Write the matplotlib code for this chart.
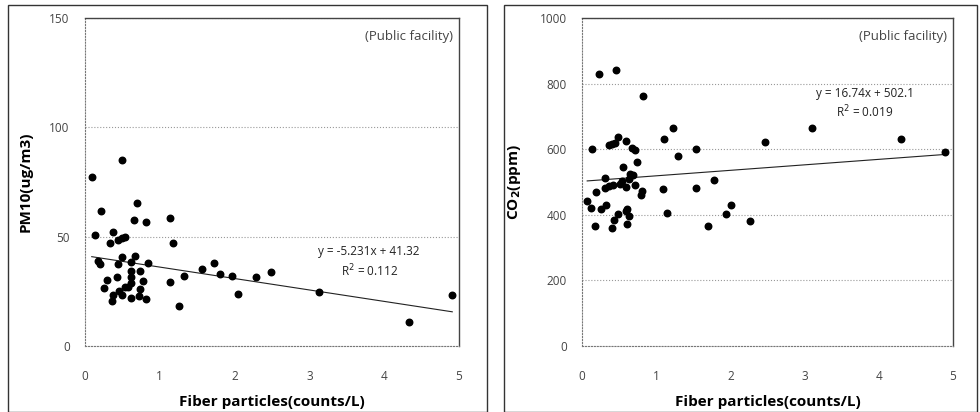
import matplotlib.pyplot as plt
from matplotlib.patches import Rectangle

plt.rcParams['font.family'] = ['Open Sans', 'DejaVu Sans']

# PM10 vs fiber particles (public facility)
pm_x = [0.50, 0.09, 0.21, 0.69, 0.65, 0.82, 1.13, 0.14, 0.38, 0.33, 0.44, 0.49, 0.53,
        1.17, 0.17, 0.20, 0.44, 0.50, 0.61, 0.67, 0.84, 1.56, 1.72, 1.80, 1.97, 2.28,
        2.48, 1.32, 1.13, 2.04, 1.25, 0.29, 0.26, 0.43, 0.61, 0.73, 0.62, 0.77, 0.62,
        0.58, 0.54, 0.74, 0.45, 0.38, 0.36, 0.49, 0.62, 0.72, 0.82, 3.13, 4.33, 4.91]
pm_y = [84.9, 77.2, 61.6, 65.4, 57.7, 56.5, 58.4, 50.7, 52.2, 47.2, 48.4, 49.5, 49.9,
        47.3, 39.1, 37.6, 37.7, 40.5, 38.4, 41.2, 38.1, 35.3, 37.9, 33.0, 31.8, 31.7,
        33.9, 31.8, 29.2, 23.9, 18.1, 30.0, 26.5, 31.4, 34.1, 34.1, 31.7, 29.7, 28.9,
        27.2, 26.8, 25.9, 25.1, 23.3, 20.7, 23.1, 21.8, 22.7, 21.5, 24.7, 11.1, 23.4]
pm_slope, pm_icpt = -5.231, 41.32

# CO2 vs fiber particles (public facility)
co_x = [0.23, 0.46, 0.82, 1.22, 1.11, 0.49, 0.59, 0.36, 0.40, 0.45, 0.14, 0.68, 0.71,
        1.53, 2.46, 1.29, 0.74, 0.55, 0.65, 0.69, 0.31, 0.63, 0.54, 1.78, 0.51, 0.42,
        0.72, 0.36, 0.59, 0.31, 1.09, 1.53, 0.19, 0.81, 0.79, 0.07, 0.33, 0.12, 0.26,
        0.61, 0.59, 0.49, 0.63, 2.01, 1.94, 1.15, 0.43, 0.17, 0.41, 0.60, 1.70, 2.26,
        3.10, 4.30, 4.89]
co_y = [830, 841, 762, 665, 632, 636, 624, 614, 617, 619, 601, 603, 598,
        600, 621, 579, 562, 545, 524, 521, 511, 509, 504, 507, 495, 492,
        492, 489, 484, 481, 478, 481, 471, 472, 459, 441, 429, 420, 419,
        419, 412, 403, 397, 431, 403, 404, 383, 366, 361, 373, 367, 382,
        666, 631, 592]
co_slope, co_icpt = 16.74, 502.1

fig = plt.figure(figsize=(9.8, 4.12), dpi=100)

# outer chart frames
fig.patches.append(Rectangle((8 / 980, 0.0), 479 / 980, 407 / 412, transform=fig.transFigure,
                             fill=False, edgecolor='#333333', linewidth=1.0))
fig.patches.append(Rectangle((504 / 980, 0.0), 473 / 980, 407 / 412, transform=fig.transFigure,
                             fill=False, edgecolor='#333333', linewidth=1.0))

ax1 = fig.add_axes([85 / 980, 66 / 412, 374 / 980, 328 / 412])
ax2 = fig.add_axes([582 / 980, 66 / 412, 371 / 980, 328 / 412])


def style_axes(ax, ymax, ystep, ylabel):
    ax.set_xlim(0, 5)
    ax.set_ylim(0, ymax)
    ax.set_xticks(range(0, 6))
    ax.set_yticks(range(0, ymax + 1, ystep))
    ax.tick_params(length=0, labelsize=8.5, labelcolor='#444444')
    ax.tick_params(axis='x', pad=17)
    ax.tick_params(axis='y', pad=11)
    ax.grid(axis='y', linestyle=':', color='#999999', linewidth=0.8)
    ax.set_axisbelow(True)
    for side in ['left', 'bottom']:
        ax.spines[side].set_linestyle(':')
        ax.spines[side].set_color('#777777')
    for side in ['top', 'right']:
        ax.spines[side].set_color('#444444')
        ax.spines[side].set_linewidth(1.0)
    ax.set_xlabel('Fiber particles(counts/L)', fontsize=11, fontweight='bold', labelpad=9)
    ax.set_ylabel(ylabel, fontsize=11, fontweight='bold', labelpad=12)
    ax.text(0.985, 0.945, '(Public facility)', transform=ax.transAxes, ha='right', va='center',
            fontsize=9.5, color='#444444')


style_axes(ax1, 150, 50, 'PM10(ug/m3)')
style_axes(ax2, 1000, 200, 'CO$_\\mathbf{2}$(ppm)')

ax1.scatter(pm_x, pm_y, s=22, color='black', zorder=3)
lx = [min(pm_x), max(pm_x)]
ax1.plot(lx, [pm_slope * v + pm_icpt for v in lx], color='#222222', linewidth=0.8)
ax1.text(0.76, 0.256, 'y = -5.231x + 41.32\nR$^2$ = 0.112', transform=ax1.transAxes,
         ha='center', va='center', fontsize=8.5, color='#222222', linespacing=1.3)

ax2.scatter(co_x, co_y, s=22, color='black', zorder=3)
lx = [min(co_x), max(co_x)]
ax2.plot(lx, [co_slope * v + co_icpt for v in lx], color='#222222', linewidth=0.8)
ax2.text(0.763, 0.739, 'y = 16.74x + 502.1\nR$^2$ = 0.019', transform=ax2.transAxes,
         ha='center', va='center', fontsize=8.5, color='#222222', linespacing=1.3)

fig.savefig('out.png', dpi=100)
